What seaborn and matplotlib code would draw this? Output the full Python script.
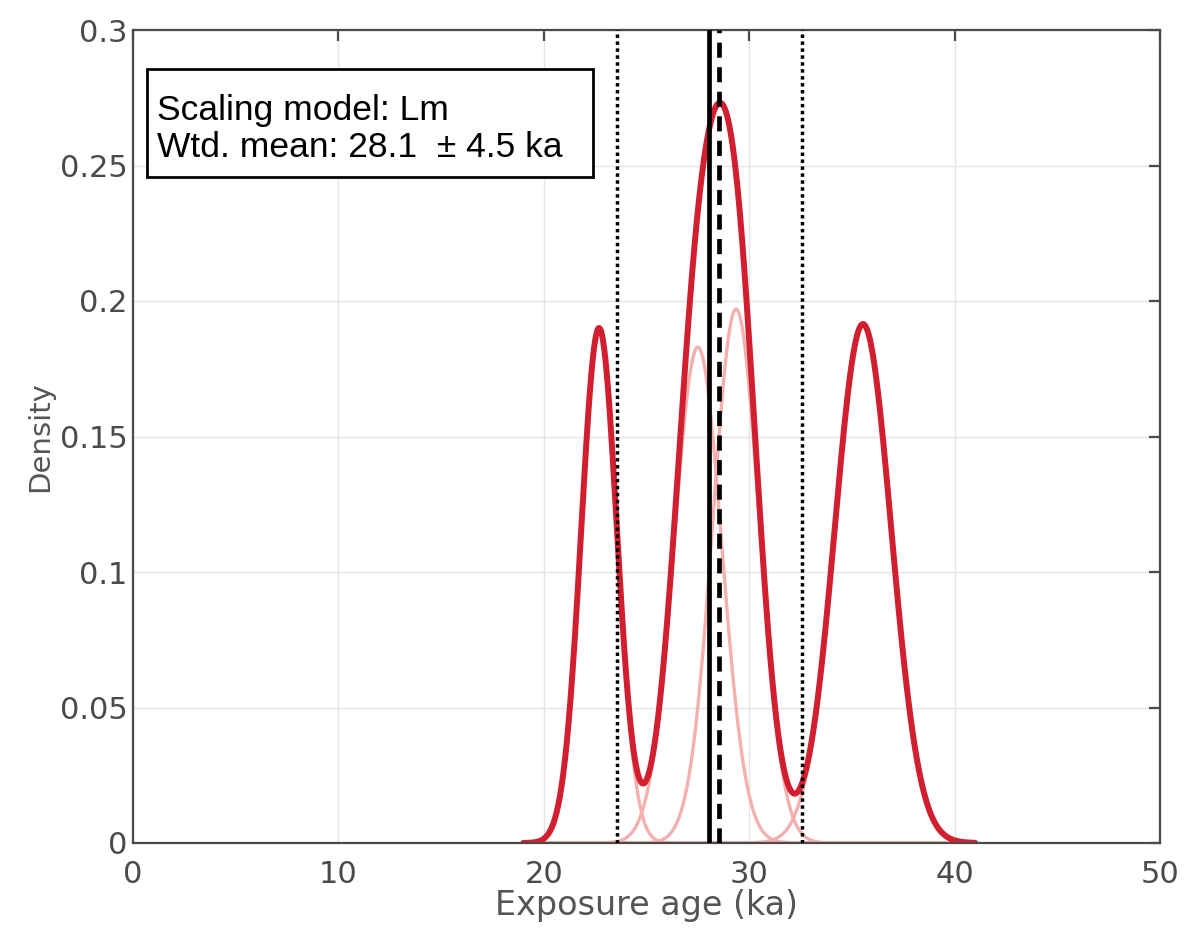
import numpy as np
import pandas as pd
import matplotlib.pyplot as plt
import seaborn as sns
from matplotlib.patches import Rectangle

# individual sample PDFs: age (ka), 1-sigma (ka), peak height
sample_ages = [22.69, 27.50, 29.36, 35.54]
sample_errs = [0.87, 1.155, 1.126, 1.374]
peak_heights = [0.190, 0.183, 0.197, 0.1915]

# summary statistics
scaling_model = 'Lm'
wtd_mean = 28.06
wtd_sd = 4.5
peak_age = 28.53

age_min, age_max = 19.0, 41.0

sns.set_style('whitegrid')
plt.rcParams['font.family'] = ['Liberation Sans', 'DejaVu Sans']

x = np.linspace(age_min, age_max, 800)
rows = []
for i, (mu, sd, h) in enumerate(zip(sample_ages, sample_errs, peak_heights)):
    rows.append(pd.DataFrame({'age': x,
                              'density': h * np.exp(-(x - mu) ** 2 / (2 * sd ** 2)),
                              'sample': f's{i}'}))
pdfs = pd.concat(rows, ignore_index=True)
summed = pdfs.groupby('age', as_index=False)['density'].sum()

fig = plt.figure(figsize=(11.92, 9.33), dpi=100)
ax = fig.add_axes([133 / 1192, 90 / 933, 1027 / 1192, 813 / 933])

sns.lineplot(data=pdfs, x='age', y='density', hue='sample',
             palette=['#f3b0ae'] * len(sample_ages), linewidth=2.4,
             legend=False, ax=ax)
sns.lineplot(data=summed, x='age', y='density', color='#d21f2f',
             linewidth=4.3, ax=ax)

ax.axvline(wtd_mean, color='black', lw=3.4, zorder=5)
ax.axvline(peak_age, color='black', lw=3.4, dashes=(3.2, 2.0), zorder=5)
for xv in [wtd_mean - wtd_sd, wtd_mean + wtd_sd]:
    ax.axvline(xv, color='black', lw=2.5, dashes=(1, 1.0), zorder=5)

ax.set_xlim(0, 50)
ax.set_ylim(0, 0.3)
ax.set_xticks(np.arange(0, 51, 10))
yt = [0, 0.05, 0.1, 0.15, 0.2, 0.25, 0.3]
ax.set_yticks(yt)
ax.set_yticklabels([f'{v:g}' for v in yt])

ax.grid(True, color='#e4e4e4', linewidth=1.0)
for s in ax.spines.values():
    s.set_visible(True)
    s.set_color('#4a4a4a')
    s.set_linewidth(1.6)
ax.tick_params(direction='in', length=8, width=1.6, color='#4a4a4a',
               top=True, right=True, labelsize=22, labelcolor='#4a4a4a')
ax.tick_params(axis='x', pad=12)
ax.tick_params(axis='y', pad=4)
for lab in ax.get_xticklabels() + ax.get_yticklabels():
    lab.set_family('DejaVu Sans')

ax.set_xlabel('Exposure age (ka)', fontsize=24, color='#555555', labelpad=0,
              family='DejaVu Sans')
ax.set_ylabel('Density', fontsize=21, color='#555555', labelpad=4,
              family='DejaVu Sans')

# summary box
ax.add_patch(Rectangle((0.0136, 0.819), 0.434, 0.133, transform=ax.transAxes,
                       facecolor='white', edgecolor='black', lw=2.0, zorder=6))
ax.text(0.0234, 0.889, f'Scaling model: {scaling_model}', transform=ax.transAxes,
        fontsize=25.5, color='black', zorder=7)
ax.text(0.0234, 0.844, f'Wtd. mean: {wtd_mean:.1f}  \u00b1 {wtd_sd:.1f} ka',
        transform=ax.transAxes, fontsize=25.5, color='black', zorder=7)

fig.savefig('out.png', dpi=100)
